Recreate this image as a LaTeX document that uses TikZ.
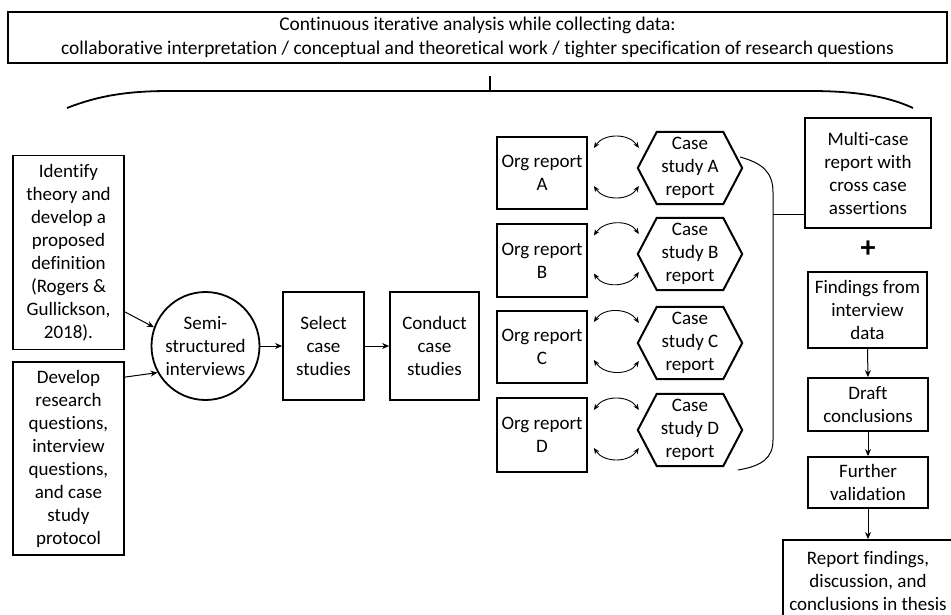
\documentclass[tikz,border=0pt]{standalone}
\usepackage{fontspec}
\setmainfont{Carlito}[Ligatures=NoCommon]
\usetikzlibrary{arrows.meta,calc}
\newcommand\hexframe[1]{\draw[hexline] (#1.west) -- ($(#1.north west)+(19,0)$) -- ($(#1.north east)+(-19,0)$) -- (#1.east) -- ($(#1.south east)+(-19,0)$) -- ($(#1.south west)+(19,0)$) -- cycle;}
\begin{document}
\begin{tikzpicture}[x=1pt,y=-1pt,
  box/.style={draw,line width=1.8pt,align=center,inner sep=0pt,font=\fontsize{19}{23}\selectfont},
  hexbox/.style={align=center,inner sep=0pt,minimum width=104pt,minimum height=72pt,font=\fontsize{19}{23}\selectfont},
  conn/.style={line width=1pt},
  arr/.style={conn,-{Stealth[length=7pt,width=6pt]}},
  darr/.style={line width=0.9pt,{Stealth[length=6pt,width=5pt]}-{Stealth[length=6pt,width=5pt]}},
  hexline/.style={line width=2pt,line join=miter}]
\fill[white] (0,0) rectangle (951,615);
\useasboundingbox (0,0) rectangle (951,615);
% top box
\node[box,minimum width=939pt,minimum height=51pt,font=\fontsize{19.4}{24}\selectfont] (top) at (477.5,37.5)
  {Continuous iterative analysis while collecting data:\\collaborative interpretation / conceptual and theoretical work / tighter specification of research questions};
\coordinate (tk0) at (490,76);
\coordinate (tk) at (490,91);
\draw[line width=1.8pt] (tk0) -- (tk);
\draw[line width=1.8pt] (67,108) .. controls (100,95) and (130,91) .. (170,91) -- (810,91) .. controls (850,91) and (885,95) .. (913,108);
% left
\node[box,minimum width=111pt,minimum height=194pt] (id) at (68.5,252.5)
  {Identify\\theory and\\develop a\\proposed\\definition\\(Rogers \&\\Gullickson,\\2018).};
\node[box,minimum width=111pt,minimum height=193pt] (dev) at (68.5,458.5)
  {Develop\\research\\questions,\\interview\\questions,\\and case\\study\\protocol};
\node[box,circle,minimum size=108pt] (semi) at (205.5,346) {Semi-\\structured\\interviews};
\node[box,minimum width=81pt,minimum height=108pt] (sel) at (323.5,346) {Select\\case\\studies};
\node[box,minimum width=89pt,minimum height=108pt] (con) at (434.5,346) {Conduct\\case\\studies};
\draw[arr] ($(id.south east)+(0,-38.5)$) -- (semi.160);
\draw[arr] ($(dev.north east)+(0,16)$) -- (semi.209);
\draw[arr] (semi.east) -- (sel.west);
\draw[arr] (sel.east) -- (con.west);
% org reports and case studies
\node[box,minimum width=90pt,minimum height=72pt] (orgA) at (542,173) {Org report\\A};
\node[box,minimum width=90pt,minimum height=73pt] (orgB) at (542,260.5) {Org report\\B};
\node[box,minimum width=90pt,minimum height=72pt] (orgC) at (542,347) {Org report\\C};
\node[box,minimum width=90pt,minimum height=74pt] (orgD) at (542,435) {Org report\\D};
\node[hexbox] (hexA) at (690,168) {Case\\study A\\report};
\node[hexbox] (hexB) at (690,254) {Case\\study B\\report};
\node[hexbox] (hexC) at (690,343) {Case\\study C\\report};
\node[hexbox] (hexD) at (690,430) {Case\\study D\\report};
\hexframe{hexA}\hexframe{hexB}\hexframe{hexC}\hexframe{hexD}
\foreach \o/\h in {orgA/hexA,orgB/hexB,orgC/hexC,orgD/hexD}{
  \draw[darr] ($(\o.east)+(6,-25)$) .. controls +(10,-15) and +(-10,-15) .. ($(\h.west)+(1,-20)$);
  \draw[darr] ($(\o.east)+(6,13)$) .. controls +(10,15) and +(-10,15) .. ($(\h.west)+(1,18)$);
}
% bracket
\coordinate (bt) at (740,157);
\coordinate (bb) at (738,470);
\coordinate (bj) at (773,214);
\draw[conn] (bt) .. controls (762,163) and (773,172) .. (773,192) -- (773,440) .. controls (773,458) and (762,466) .. (bb);
% right column
\node[box,minimum width=126pt,minimum height=110pt] (multi) at (868,173) {Multi-case\\report with\\cross case\\assertions};
\draw[conn] (bj) -- (multi.west |- bj);
\node[font=\fontsize{30}{30}\selectfont\bfseries,inner sep=0pt] (plus) at (868,249) {+};
\node[box,minimum width=119pt,minimum height=76pt] (find) at (867.5,310) {Findings from\\interview\\data};
\node[box,minimum width=120pt,minimum height=53pt] (draft) at (868,404.5) {Draft\\conclusions};
\node[box,minimum width=120pt,minimum height=51pt] (valid) at (868,482.5) {Further\\validation};
\node[box,minimum width=170pt,minimum height=82pt] (report) at (868,581) {Report findings,\\discussion, and\\conclusions in thesis};
\draw[arr] (find.south) -- (draft.north);
\draw[arr] (draft.south) -- (valid.north);
\draw[arr] (valid.south) -- (report.north);
\end{tikzpicture}
\end{document}
